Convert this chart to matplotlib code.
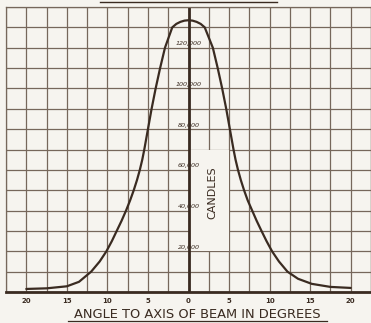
#!/usr/bin/env python
"""
探照灯光束强度分布曲线 (复刻扫描图)

运行方式:
    python plot.py
"""

import numpy as np
import matplotlib
matplotlib.use('Agg')
import matplotlib.pyplot as plt
from matplotlib.patches import Rectangle
from matplotlib.lines import Line2D

# 曲线读数: 角度 (度) 与 烛光 (candles)
angles = [-20, -17.5, -15, -13.5, -12.0, -10.95, -10.12, -9.45, -8.85, -8.25, -7.7, -7.2,
          -6.75, -6.35, -6.0, -5.7, -5.45, -5.0,
          -4.55, -4.05, -3.5, -2.9, -2.0, -1.5, -1.0, -0.5, 0,
          0.5, 1.0, 1.5, 2.0, 3.0, 3.6, 4.15, 4.65, 5.1, 5.55, 5.8, 6.1, 6.45, 6.85,
          7.3, 7.85, 8.4, 9.0, 9.62, 10.3, 11.15, 12.2, 13.5, 15.2, 17.5, 20]
candles = [1500, 1800, 2800, 5000, 10000, 15000, 20000, 25000, 30000, 35000, 40000, 45000,
           50000, 55000, 60000, 65000, 70000, 80000,
           90000, 100000, 110000, 120000, 130000, 131700, 132700, 133300, 133500,
           133300, 132700, 131700, 130000, 120000, 110000, 100000, 90000, 80000, 70000, 65000, 60000, 55000, 50000,
           45000, 40000, 35000, 30000, 25000, 20000, 15000, 10000, 6500, 4000, 2500, 2000]

# 中轴上的刻度文字
y_label_values = [20000, 40000, 60000, 80000, 100000, 120000]
y_label_texts = ['20,000', '40,000', '60,000', '80,000', '100,000', '120,000']

# 横轴刻度
x_tick_values = [-20, -15, -10, -5, 0, 5, 10, 15, 20]
x_tick_texts = ['20', '15', '10', '5', '0', '5', '10', '15', '20']

x_title = 'ANGLE TO AXIS OF BEAM IN DEGREES'
y_title = 'CANDLES'


def draw_chart(save_path='out.png'):
    paper = '#f6f4ef'
    grid_c = '#76675b'
    ink = '#3a2b21'

    fig = plt.figure(figsize=(3.71, 3.23), dpi=100, facecolor=paper)
    ax = fig.add_axes([6 / 371, 31 / 323, 365 / 371, 285 / 323])
    ax.set_facecolor(paper)

    ax.set_xlim(-22.5, 22.5)
    ax.set_ylim(0, 140000)

    # 网格: 每 2.5 度 / 每 10,000 烛光
    ax.set_xticks(x_tick_values)
    ax.set_xticklabels(x_tick_texts, fontsize=5, color=ink, fontweight='bold')
    minor_x = [v for v in np.arange(-22.5, 22.6, 2.5) if v % 5 != 0]
    ax.set_xticks(minor_x, minor=True)
    ax.set_xticklabels([], minor=True)
    ax.set_yticks(np.arange(0, 140001, 10000))
    ax.set_yticklabels([])
    ax.tick_params(axis='both', which='both', length=0)
    ax.tick_params(axis='x', pad=4)
    ax.set_axisbelow(True)
    ax.grid(True, which='both', color=grid_c, linewidth=0.9)

    for side in ['left', 'top', 'right']:
        ax.spines[side].set_color(grid_c)
        ax.spines[side].set_linewidth(0.9)
    ax.spines['bottom'].set_color(ink)
    ax.spines['bottom'].set_linewidth(2.0)

    # CANDLES 标注处的空白框
    ax.add_patch(Rectangle((0, 20000), 5, 50000, facecolor=paper,
                           edgecolor='none', zorder=1))

    # 中轴粗线
    ax.axvline(0, color=ink, linewidth=2.0, zorder=2)

    # 强度曲线
    ax.plot(angles, candles, color=ink, linewidth=1.6, zorder=3,
            solid_joinstyle='round', solid_capstyle='round')

    for v, s in zip(y_label_values, y_label_texts):
        ax.text(0, v + 700, s, fontsize=4.6, style='italic', color=ink,
                ha='center', va='bottom', zorder=4)

    ax.text(2.9, 49000, y_title, rotation=90, fontsize=8, color=ink,
            ha='center', va='center', zorder=4)

    # 横轴标题 (带下划线)
    fig.text(0.533, 5 / 323, x_title, fontsize=9.4, color=ink,
             ha='center', va='baseline')
    fig.add_artist(Line2D([68 / 371, 327 / 371], [2 / 323, 2 / 323],
                          color=ink, linewidth=0.9))
    # 顶部被裁掉的标题下划线
    fig.add_artist(Line2D([100 / 371, 277 / 371], [321.5 / 323, 321.5 / 323],
                          color=ink, linewidth=1.0))

    plt.savefig(save_path, dpi=100, facecolor=paper)
    plt.close()


if __name__ == '__main__':
    draw_chart('out.png')
